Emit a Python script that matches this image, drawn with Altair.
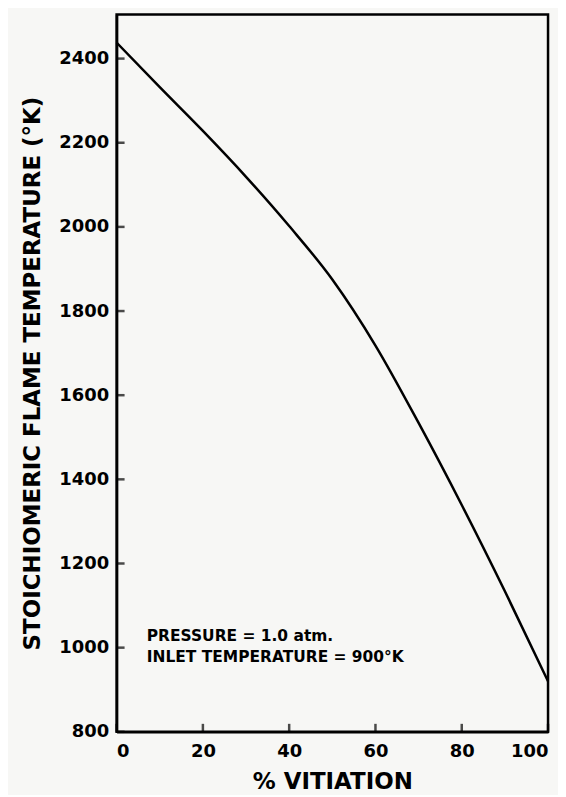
import altair as alt
import pandas as pd

vitiation = [0, 10, 20, 30, 40, 50, 60, 70, 80, 90, 100]
temperature = [2438, 2332, 2228, 2119, 2002, 1875, 1718, 1534, 1339, 1134, 920]

x_ticks = [0, 20, 40, 60, 80, 100]
y_ticks = [800, 1000, 1200, 1400, 1600, 1800, 2000, 2200, 2400]

notes = ["PRESSURE = 1.0 atm.", "INLET TEMPERATURE = 900°K"]
note_y = [1027, 978]
note_x = [7.0, 7.0]

FONT = "DejaVu Sans"

df = pd.DataFrame({"v": vitiation, "t": temperature})
xt = pd.DataFrame({"v": x_ticks})
yt = pd.DataFrame({"t": y_ticks})
nt = pd.DataFrame({"label": notes, "t": note_y, "v": note_x})

xscale = alt.Scale(domain=[0, 100], nice=False, zero=False)
yscale = alt.Scale(domain=[800, 2505], nice=False, zero=False)

xaxis = alt.Axis(values=x_ticks, ticks=False, format="d", labelFont=FONT,
                 labelFontWeight="bold", labelFontSize=18, labelColor="black",
                 labelPadding=11, title="% VITIATION", titleFont=FONT,
                 titleFontWeight="bold", titleFontSize=23, titleColor="black",
                 titlePadding=10, domainColor="black", domainWidth=2.5, grid=False)
yaxis = alt.Axis(values=y_ticks, ticks=False, format="d", labelFont=FONT,
                 labelFontWeight="bold", labelFontSize=18, labelColor="black",
                 labelPadding=8, title="STOICHIOMERIC FLAME TEMPERATURE (°K)",
                 titleFont=FONT, titleFontWeight="bold", titleFontSize=23,
                 titleColor="black", titlePadding=14, domainColor="black",
                 domainWidth=2.5, grid=False)

line = alt.Chart(df).mark_line(color="black", strokeWidth=2.5, interpolate="monotone").encode(
    x=alt.X("v:Q", scale=xscale, axis=xaxis),
    y=alt.Y("t:Q", scale=yscale, axis=yaxis),
)

yticks = alt.Chart(yt).mark_tick(color="black", thickness=2.5, size=8, orient="horizontal").encode(
    y=alt.Y("t:Q", scale=yscale),
    x=alt.value(4),
)

xticks = alt.Chart(xt).mark_tick(color="black", thickness=2.5, size=8, orient="vertical").encode(
    x=alt.X("v:Q", scale=xscale),
    y=alt.value(716),
)

text = alt.Chart(nt).mark_text(align="left", baseline="middle", font=FONT,
                               fontWeight="bold", fontSize=15.5, color="black").encode(
    x=alt.X("v:Q", scale=xscale),
    y=alt.Y("t:Q", scale=yscale),
    text="label:N",
)

chart = alt.layer(line, yticks, xticks, text).properties(
    width=433, height=720, background="#f7f7f5",
    padding={"left": 13, "top": 5, "right": 5, "bottom": 0},
).configure_view(stroke="black", strokeWidth=2.5)

chart.save("out.html", embed_options={"renderer": "svg", "actions": False})
